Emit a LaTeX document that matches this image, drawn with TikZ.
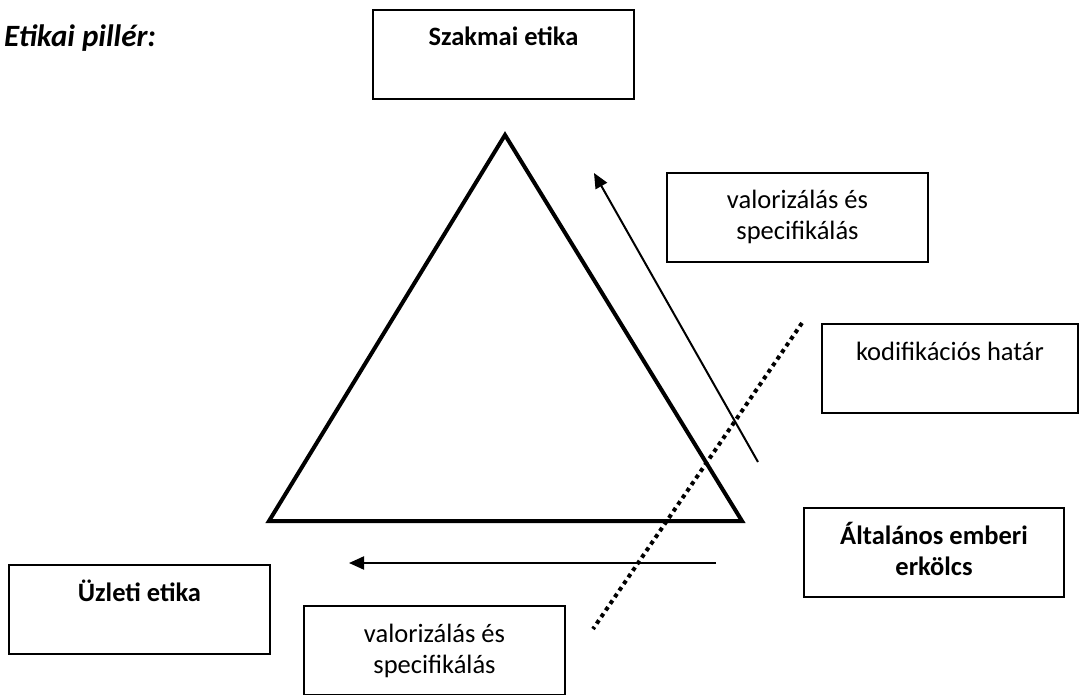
\documentclass[tikz,border=0pt]{standalone}
\usepackage{fontspec}
\setmainfont{Carlito}
\usetikzlibrary{arrows.meta}
\newcommand\bxt[2][261]{\parbox[c][89pt][t]{#1pt}{\centering\rule{0pt}{36pt}#2}}
\begin{document}
\begin{tikzpicture}[x=1pt,y=-1pt,
  box/.style={draw,line width=2pt,inner sep=0pt,anchor=north west,
    font=\fontsize{26.5}{31}\selectfont},
  boldbox/.style={box,font=\fontsize{26.5}{31}\selectfont\bfseries},
  tri/.style={line width=4pt,line join=miter},
  arr/.style={line width=2pt,-{Triangle[length=15pt,width=13pt]}},
  border/.style={line width=4pt,dash pattern=on 4pt off 4pt}]
\useasboundingbox (0,0) rectangle (1079,695);

\node[anchor=base west,inner sep=0pt,font=\fontsize{31}{36}\selectfont\bfseries\itshape] (title) at (4,47) {Etikai pillér:};

\node[boldbox] (szakmai) at (372,9) {\bxt{Szakmai etika}};
\node[box] (val1) at (666,172) {\bxt{valorizálás és\\specifikálás}};
\node[box] (kod) at (821,323) {\bxt[256]{kodifikációs határ}};
\node[boldbox] (alt) at (803,507) {\bxt[260]{Általános emberi\\erkölcs}};
\node[boldbox] (uzl) at (8,564) {\bxt{Üzleti etika}};
\node[box] (val2) at (303,605) {\bxt{valorizálás és\\specifikálás}};

\coordinate (apex) at (505,135);
\coordinate (bl) at (269,521);
\coordinate (br) at (742,521);
\draw[tri] (apex) -- (bl) -- (br) -- cycle;

\coordinate (a1s) at (758,462);
\coordinate (a1e) at (594,173);
\draw[arr] (a1s) -- (a1e);

\coordinate (a2s) at (716,563);
\coordinate (a2e) at (349,563);
\draw[arr] (a2s) -- (a2e);

\coordinate (d1) at (802,323);
\coordinate (d2) at (593,629);
\draw[border] (d1) -- (d2);
\end{tikzpicture}
\end{document}
